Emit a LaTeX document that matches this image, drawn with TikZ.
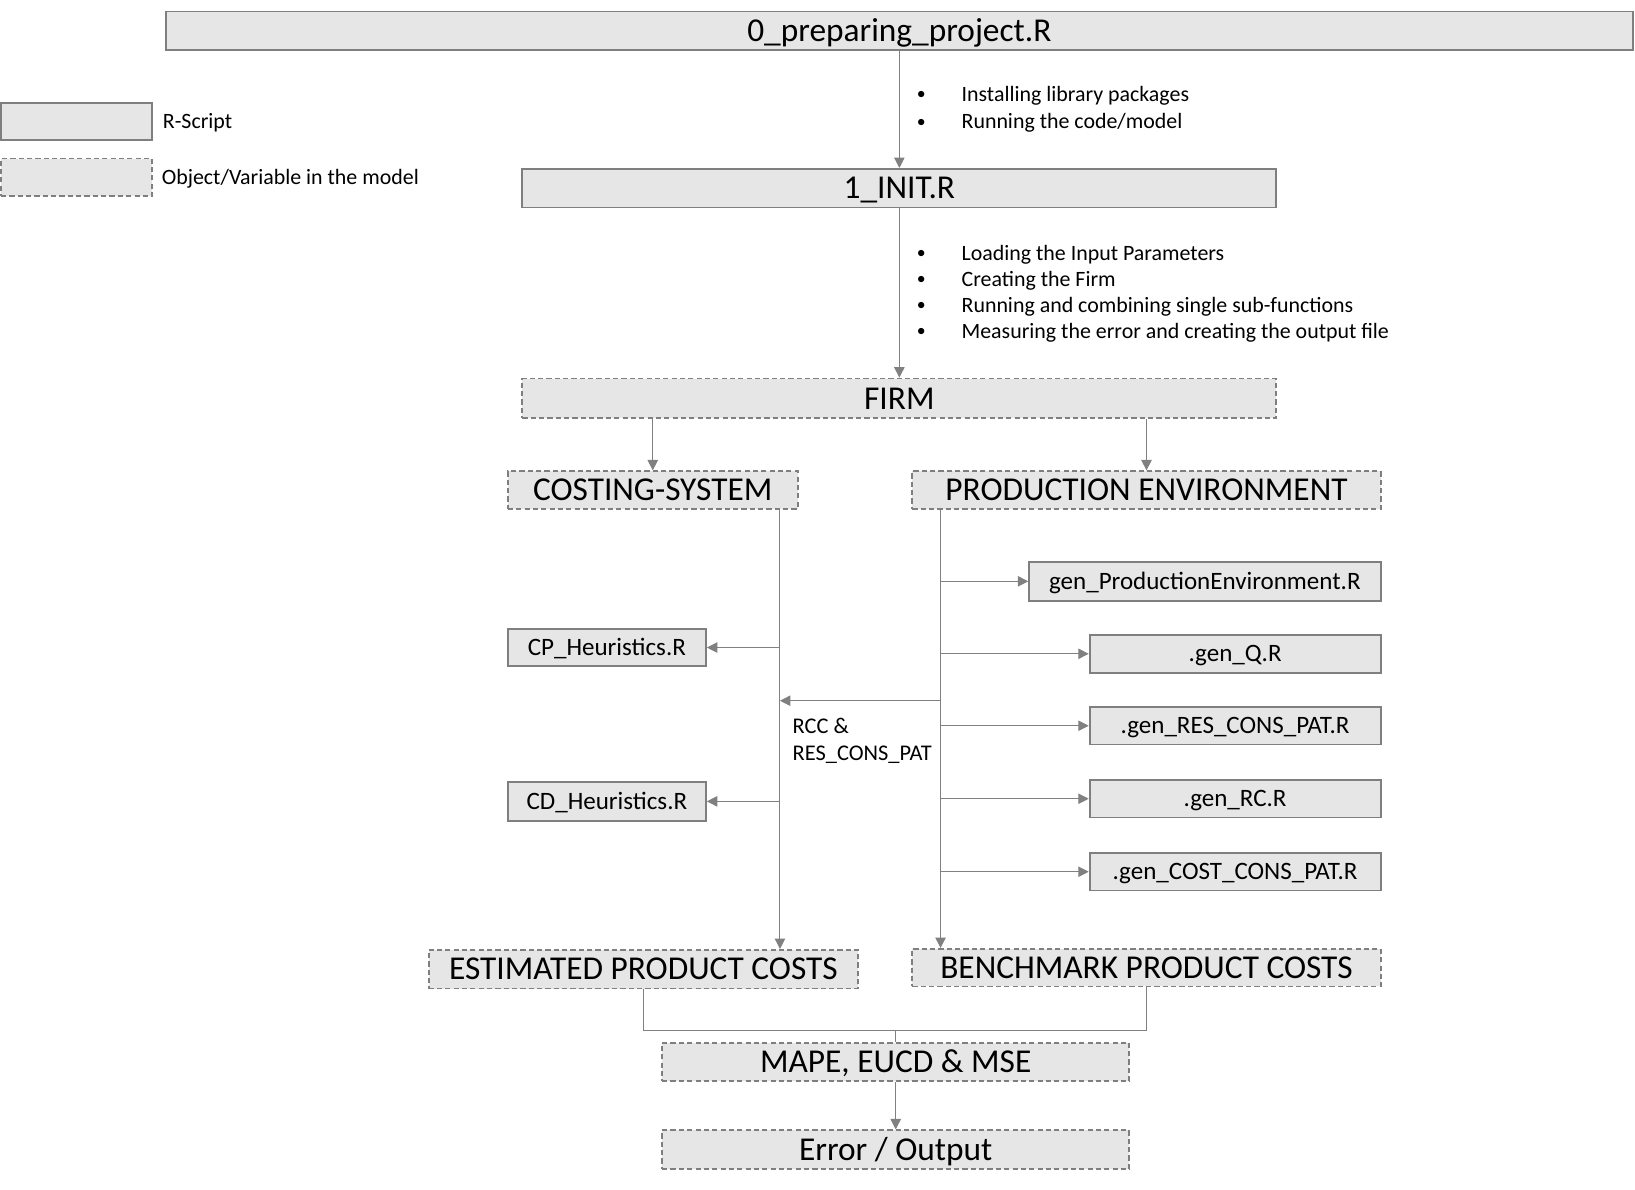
\documentclass[tikz,border=0pt]{standalone}
\usepackage{fontspec}
\setmainfont{Carlito}
\usetikzlibrary{arrows.meta}
\definecolor{boxfill}{HTML}{E7E6E6}
\definecolor{boxline}{HTML}{7F7F7F}
\definecolor{conline}{HTML}{808080}
\tikzset{
  rbox/.style={draw=boxline, fill=boxfill, line width=1.8pt, inner sep=0pt, text=black},
  obox/.style={rbox, dash pattern=on 5pt off 3pt},
  bigtxt/.style={font=\fontsize{32}{37}\selectfont, text height=20.6pt, text depth=0pt},
  midtxt/.style={font=\fontsize{24}{29}\selectfont, text height=15.5pt, text depth=0pt},
  smalltxt/.style={font=\fontsize{21}{25}\selectfont, inner sep=0pt, anchor=west},
  conn/.style={draw=conline, line width=1pt},
  arr/.style={conn, -{Triangle[length=10pt, width=10pt]}},
}
\begin{document}
\begin{tikzpicture}[x=1pt, y=-1pt]
\useasboundingbox (0,0) rectangle (1568,1141);
% legend
\node[rbox, minimum width=145pt, minimum height=35pt] (lega) at (73.5,116.5) {};
\node[obox, minimum width=145pt, minimum height=36pt] (legb) at (73.5,170) {};
\node[smalltxt] (legat) at (156,118) {R-Script};
\node[smalltxt] (legbt) at (155,171) {Object/Variable in the model};
% main boxes
\node[rbox, bigtxt, minimum width=1407pt, minimum height=37pt] (top) at (862.5,29.5) {0\_preparing\_project.R};
\node[rbox, bigtxt, minimum width=723pt, minimum height=37pt] (init) at (862.5,180.5) {1\_INIT.R};
\node[obox, bigtxt, minimum width=723pt, minimum height=38pt] (firm) at (862.5,382) {FIRM};
\node[obox, bigtxt, minimum width=278pt, minimum height=36pt] (cs) at (626,470) {COSTING-SYSTEM};
\node[obox, bigtxt, minimum width=449pt, minimum height=36pt] (pe) at (1099.5,470) {PRODUCTION ENVIRONMENT};
\node[rbox, midtxt, minimum width=337pt, minimum height=37pt] (gpe) at (1155.5,557.5) {gen\_ProductionEnvironment.R};
\node[rbox, midtxt, minimum width=279pt, minimum height=36pt] (gq) at (1184.5,627) {.gen\_Q.R};
\node[rbox, midtxt, minimum width=279pt, minimum height=36pt] (gres) at (1184.5,696) {.gen\_RES\_CONS\_PAT.R};
\node[rbox, midtxt, minimum width=279pt, minimum height=36pt] (grc) at (1184.5,766) {.gen\_RC.R};
\node[rbox, midtxt, minimum width=279pt, minimum height=36pt] (gcost) at (1184.5,836) {.gen\_COST\_CONS\_PAT.R};
\node[rbox, midtxt, minimum width=190pt, minimum height=36pt] (cp) at (582,621) {CP\_Heuristics.R};
\node[rbox, midtxt, minimum width=190pt, minimum height=37pt] (cd) at (582,768.5) {CD\_Heuristics.R};
\node[obox, bigtxt, minimum width=412pt, minimum height=37pt] (epc) at (617,929.5) {ESTIMATED PRODUCT COSTS};
\node[obox, bigtxt, minimum width=449pt, minimum height=36pt] (bpc) at (1099.5,928) {BENCHMARK PRODUCT COSTS};
\node[obox, bigtxt, minimum width=448pt, minimum height=37pt] (mape) at (859,1018.5) {MAPE, EUCD \& MSE};
\node[obox, bigtxt, minimum width=448pt, minimum height=37pt] (err) at (859,1102.5) {Error / Output};
% bullet texts
\foreach \y/\t [count=\i] in {92/Installing library packages, 118/Running the code\slash model}{
  \node[smalltxt, font=\fontsize{17}{20}\selectfont] (ba\i) at (879,\y) {•};
  \node[smalltxt] (bt\i) at (922,\y) {\t};
}
\foreach \y/\t [count=\i] in {244/Loading the Input Parameters, 269/Creating the Firm, 294/Running and combining single sub-functions, 319/Measuring the error and creating the output file}{
  \node[smalltxt, font=\fontsize{17}{20}\selectfont] (bc\i) at (879,\y) {•};
  \node[smalltxt] (bu\i) at (922,\y) {\t};
}
\node[smalltxt, anchor=north west, align=left, font=\fontsize{21.5}{25}\selectfont] (rcclbl) at (760,689) {RCC \&\\RES\_CONS\_PAT};
% connectors
\coordinate (csx) at (748,0);
\coordinate (pex) at (902,0);
\coordinate (rcc) at (0,672);
\coordinate (j) at (859,988);
\draw[arr] (top.south) -- (init.north);
\draw[arr] (init.south) -- (firm.north);
\draw[arr] (firm.south -| cs.north) -- (cs.north);
\draw[arr] (firm.south -| pe.north) -- (pe.north);
\draw[arr] (cs.south -| csx) -- (epc.north -| csx);
\draw[arr] (pe.south -| pex) -- (bpc.north -| pex);
\draw[arr] (gpe.west -| pex) -- (gpe.west);
\draw[arr] (gq.west -| pex) -- (gq.west);
\draw[arr] (gres.west -| pex) -- (gres.west);
\draw[arr] (grc.west -| pex) -- (grc.west);
\draw[arr] (gcost.west -| pex) -- (gcost.west);
\draw[arr] (cp.east -| csx) -- (cp.east);
\draw[arr] (cd.east -| csx) -- (cd.east);
\draw[arr] (rcc -| pex) -- (rcc -| csx);
\draw[conn] (epc.south) |- (j) -| (bpc.south);
\draw[conn] (j) -- (mape.north);
\draw[arr] (mape.south) -- (err.north);
\end{tikzpicture}
\end{document}
